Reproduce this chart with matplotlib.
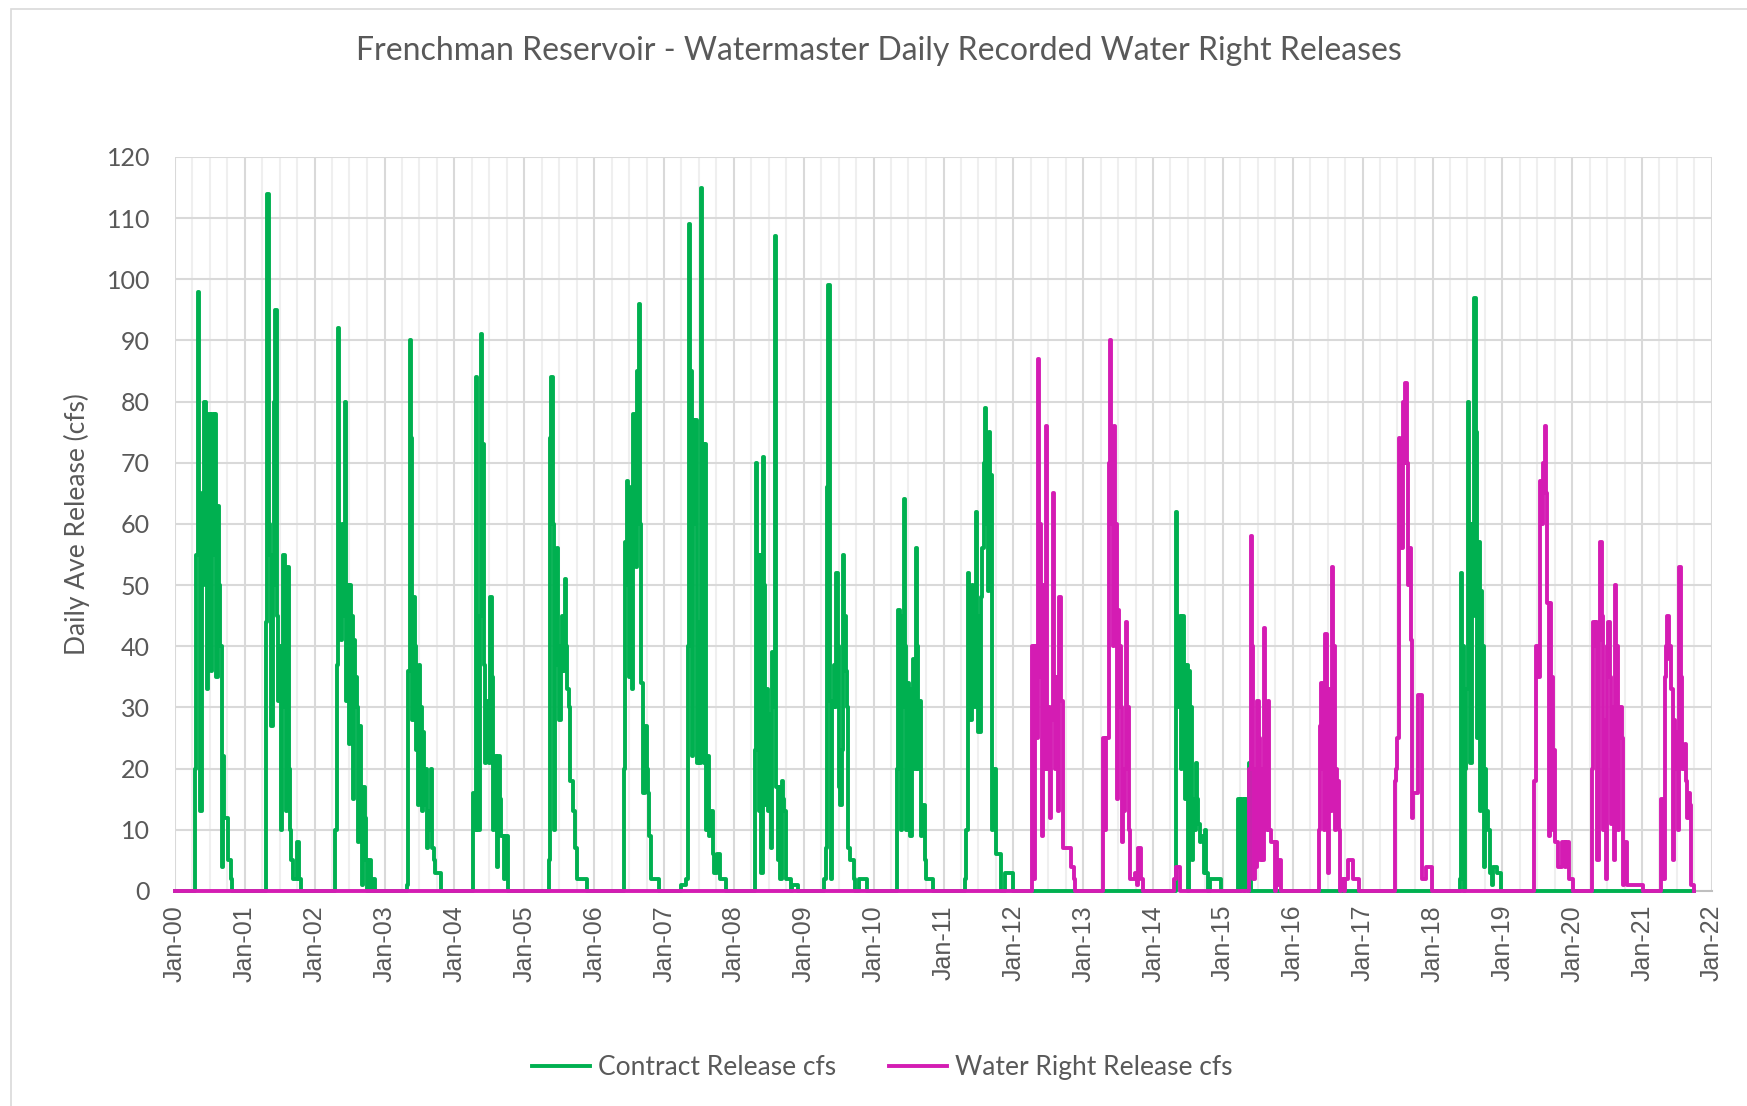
import pandas as pd
import matplotlib
matplotlib.use("Agg")
import matplotlib.pyplot as plt
import matplotlib.dates as mdates
from matplotlib.patches import Rectangle

# Period of record shown on the chart
RECORD_START = "2000-01-01"
RECORD_END = "2021-10-01"

# Contract releases (cfs), read roughly weekly off the chart; key = season start
contract_2000 = [20, 55, 98, 60, 13, 65, 50, 80, 70, 33, 78, 60, 36, 78, 55, 78, 35, 63, 50, 40, 4, 22, 12, 12, 12, 5, 5, 2, 0]
contract_2001 = [44, 114, 60, 55, 27, 50, 80, 95, 45, 31, 40, 10, 30, 55, 40, 13, 53, 20, 10, 5, 2, 2, 2, 8, 8, 2, 0]
contract_2002 = [10, 37, 92, 50, 41, 60, 45, 80, 31, 50, 24, 50, 45, 15, 41, 35, 30, 8, 27, 10, 1, 17, 12, 5, 0, 5, 5, 0, 2, 2, 0]
contract_2003 = [1, 36, 90, 74, 28, 48, 40, 23, 14, 37, 30, 13, 26, 14, 20, 7, 10, 13, 20, 7, 5, 3, 3, 3, 3, 0]
contract_2004 = [16, 10, 84, 40, 10, 45, 91, 73, 37, 21, 31, 28, 21, 48, 35, 10, 22, 18, 4, 22, 15, 9, 9, 2, 9, 9, 0]
contract_2005 = [5, 74, 84, 60, 10, 37, 56, 40, 28, 36, 45, 36, 51, 40, 33, 30, 18, 18, 13, 13, 7, 2, 2, 2, 2, 2, 2, 2, 2, 0]
contract_2006 = [20, 57, 67, 50, 35, 66, 33, 78, 60, 53, 85, 96, 60, 34, 16, 16, 27, 20, 16, 9, 2, 2, 2, 2, 2, 2, 0]
contract_2007 = [1, 1, 1, 1, 2, 40, 109, 85, 22, 77, 60, 77, 21, 44, 21, 115, 73, 21, 73, 10, 22, 9, 13, 13, 6, 3, 3, 6, 6, 2, 2, 2, 2, 2, 0]
contract_2008 = [23, 70, 55, 13, 55, 3, 71, 50, 14, 33, 13, 29, 7, 39, 30, 107, 17, 5, 17, 2, 18, 15, 13, 2, 2, 2, 2, 0, 1, 1, 1, 1, 0]
contract_2009 = [2, 7, 66, 99, 31, 2, 30, 37, 30, 52, 40, 17, 14, 23, 55, 45, 36, 30, 7, 5, 5, 5, 2, 0, 0, 0, 2, 2, 2, 2, 2, 2, 0]
contract_2010 = [20, 46, 45, 10, 30, 64, 40, 10, 34, 28, 9, 33, 38, 20, 56, 40, 20, 31, 9, 14, 14, 5, 2, 2, 2, 2, 2, 0]
contract_2011 = [2, 10, 52, 40, 28, 50, 35, 30, 62, 45, 26, 26, 48, 56, 70, 79, 60, 49, 75, 68, 10, 20, 20, 6, 6, 6, 6, 0, 0, 0, 3, 3, 3, 3, 3, 3, 0]
contract_2014 = [62, 40, 30, 45, 20, 45, 37, 15, 37, 0, 36, 30, 5, 15, 10, 21, 15, 11, 8, 9, 9, 3, 10, 3, 0, 0, 2, 2, 2, 2, 2, 2, 2, 2, 0]
contract_2015 = [15, 0, 15, 15, 0, 15, 15, 0, 21, 0]
contract_2018 = [2, 52, 40, 0, 20, 33, 80, 60, 21, 60, 45, 97, 75, 25, 57, 13, 49, 40, 4, 20, 13, 10, 10, 3, 1, 4, 4, 4, 3, 3, 3, 0]

# Water right releases (cfs)
water_2012 = [40, 2, 40, 25, 87, 60, 35, 9, 50, 20, 76, 20, 30, 12, 28, 65, 35, 20, 35, 13, 48, 31, 31, 7, 7, 7, 7, 7, 7, 4, 4, 2, 0]
water_2013 = [25, 10, 25, 25, 70, 90, 60, 40, 76, 60, 15, 46, 40, 30, 8, 13, 20, 44, 30, 10, 2, 2, 2, 2, 3, 1, 7, 7, 2, 2, 0]
water_2014 = [2, 4, 4, 4, 0]
water_2015 = [20, 58, 40, 2, 20, 4, 31, 25, 5, 20, 5, 43, 30, 10, 31, 10, 8, 8, 8, 0, 8, 1, 5, 5, 0]
water_2016 = [10, 27, 34, 20, 10, 42, 30, 3, 33, 13, 53, 40, 10, 20, 18, 10, 0, 2, 2, 0, 2, 2, 5, 5, 5, 5, 2, 2, 2, 2, 0]
water_2017 = [18, 20, 25, 74, 60, 56, 80, 70, 83, 70, 50, 56, 41, 12, 16, 16, 16, 32, 32, 32, 2, 2, 2, 4, 4, 4, 4, 4, 0]
water_2019 = [18, 18, 40, 35, 35, 67, 60, 70, 76, 65, 47, 9, 47, 35, 10, 23, 8, 8, 4, 4, 4, 8, 8, 4, 8, 8, 2, 2, 2, 0]
water_2020 = [20, 44, 40, 44, 5, 41, 57, 45, 10, 28, 2, 40, 44, 35, 11, 30, 5, 50, 40, 10, 28, 30, 25, 1, 8, 8, 1, 1, 1, 1, 1, 1, 1, 1, 1, 1, 1, 1, 0]
water_2021 = [15, 15, 2, 35, 40, 45, 38, 40, 33, 5, 28, 26, 20, 10, 53, 35, 20, 20, 24, 18, 12, 16, 14, 1, 1, 0]

contract_seasons = [
    ("2000-04-14", contract_2000), ("2001-04-20", contract_2001),
    ("2002-04-18", contract_2002), ("2003-04-28", contract_2003),
    ("2004-04-07", contract_2004), ("2005-05-07", contract_2005),
    ("2006-06-05", contract_2006), ("2007-03-30", contract_2007),
    ("2008-04-19", contract_2008), ("2009-04-18", contract_2009),
    ("2010-05-02", contract_2010), ("2011-04-23", contract_2011),
    ("2014-04-28", contract_2014), ("2015-03-23", contract_2015),
    ("2018-05-22", contract_2018),
]
water_seasons = [
    ("2012-04-10", water_2012), ("2013-04-15", water_2013),
    ("2014-04-21", water_2014), ("2015-05-18", water_2015),
    ("2016-05-15", water_2016), ("2017-06-17", water_2017),
    ("2019-06-14", water_2019), ("2020-04-14", water_2020),
    ("2021-04-07", water_2021),
]

GREEN = "#00b050"
MAGENTA = "#d41cb3"
TEXT = "#595959"
GRID = "#d9d9d9"
FONT = "Lato"


def season_points(seasons):
    # sparse (date, value) points; the steps are drawn by matplotlib
    dates = [pd.Timestamp(RECORD_START)]
    vals = [0]
    for start, weekly in seasons:
        dates.extend(pd.date_range(start, periods=len(weekly), freq="7D"))
        vals.extend(weekly)
    if pd.Timestamp(RECORD_END) > dates[-1]:
        dates.append(pd.Timestamp(RECORD_END))
        vals.append(0)
    return dates, vals


plt.rcParams["font.family"] = [FONT, "DejaVu Sans"]

fig = plt.figure(figsize=(17.47, 11.06), dpi=100)
ax = fig.add_axes([0.1002, 0.1944, 0.8798, 0.6637])

# chart area border
fig.patches.append(Rectangle((0.0064, -0.01), 1.0, 1.002, transform=fig.transFigure,
                             fill=False, edgecolor=GRID, lw=1.2))

cd, cv = season_points(contract_seasons)
wd, wv = season_points(water_seasons)
ax.plot(cd, cv, drawstyle="steps-post", color=GREEN, lw=2.8, label="Contract Release cfs",
        zorder=3, clip_on=False)
ax.plot(wd, wv, drawstyle="steps-post", color=MAGENTA, lw=2.8, label="Water Right Release cfs",
        zorder=4, clip_on=False)

ax.set_xlim(pd.Timestamp("2000-01-01"), pd.Timestamp("2022-01-01"))
ax.set_ylim(0, 120)
ax.set_yticks(range(0, 121, 10))

ax.xaxis.set_major_locator(mdates.YearLocator())
ax.xaxis.set_major_formatter(mdates.DateFormatter("%b-%y"))
ax.xaxis.set_minor_locator(mdates.MonthLocator(bymonth=[4, 7, 10]))

ax.grid(True, which="major", color=GRID, lw=1.5, zorder=0)
ax.grid(True, which="minor", axis="x", color="#efefef", lw=1.5, zorder=0)
ax.set_axisbelow(True)

for side in ["top", "right", "left"]:
    ax.spines[side].set_visible(False)
ax.spines["bottom"].set_color("#bfbfbf")
ax.spines["bottom"].set_linewidth(1.5)

ax.tick_params(axis="y", length=0, pad=18, labelsize=18, labelcolor=TEXT)
ax.tick_params(axis="x", which="both", length=0, pad=10, labelsize=18, labelcolor=TEXT)
for lbl in ax.get_xticklabels():
    lbl.set_rotation(90)
    lbl.set_family(["Liberation Sans", "DejaVu Sans"])

ax.set_ylabel("Daily Ave Release (cfs)", fontsize=19, color=TEXT, labelpad=12)

fig.suptitle("Frenchman Reservoir - Watermaster Daily Recorded Water Right Releases",
             x=0.503, y=0.967, fontsize=23, color=TEXT)

fig.legend(loc="center", bbox_to_anchor=(0.505, 0.035), ncol=2, frameon=False,
           fontsize=19, labelcolor=TEXT, handlelength=2.2, handletextpad=0.3,
           columnspacing=2.0)

fig.savefig("out.png", dpi=100)
